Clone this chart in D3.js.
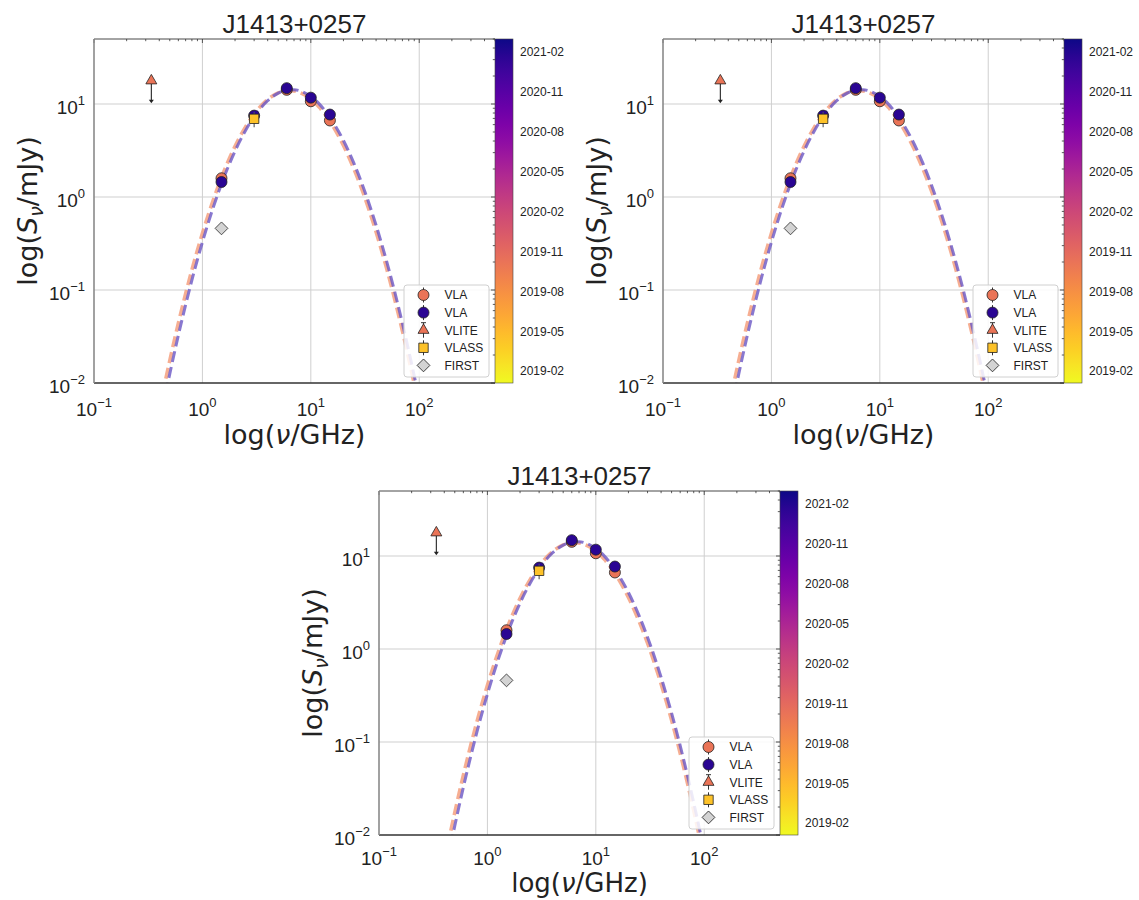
<!DOCTYPE html>
<html>
<head>
<meta charset="utf-8">
<script src="https://cdn.jsdelivr.net/npm/d3@7"></script>
<style>
  body { margin: 0; background: #fff; }
  text { font-family: "Liberation Sans", Arial, sans-serif; fill: #222; }
  .lab { font-family: "DejaVu Sans", sans-serif; }
</style>
</head>
<body>
<svg id="chart" width="1139" height="900"></svg>
<script>
// values (mJy vs GHz)
const vla1Freq = [1.5, 6, 10, 15];
const vla1Flux = [1.59, 14.2, 10.7, 6.65];
const vla2Freq = [1.5, 3, 6, 10, 15];
const vla2Flux = [1.45, 7.5, 14.8, 11.7, 7.7];
const vliteFreq = [0.338];
const vliteFlux = [17.8];
const vliteLimitTo = [10.2];
const vlassFreq = [3.0];
const vlassFlux = [6.93];
const vlassErr = [1.3];
const firstFreq = [1.5];
const firstFlux = [0.46];

const epochVla1 = '2019-10-06';
const epochVla2 = '2021-01-22';
const epochVlite = '2019-10-06';
const epochVlass = '2019-04-15';

// fitted spectra
const fitFreq = [0.4, 0.45, 0.5, 0.6, 0.7, 0.8, 1, 1.25, 1.5, 2, 2.5, 3, 4, 5, 6, 7, 8, 10, 12, 15,
                 20, 25, 30, 40, 50, 60, 70, 80, 90, 100, 120];
const fitEarly = [0.00512, 0.0099, 0.01745, 0.044, 0.0911, 0.1644, 0.4065, 0.906, 1.618, 3.505, 5.677,
                  7.80, 11.19, 13.16, 13.91, 13.83, 13.22, 11.29, 9.19, 6.51, 3.58, 2.00, 1.155, 0.4206,
                  0.171, 0.0758, 0.0362, 0.0183, 0.00973, 0.0054, 0.00184];
const fitLate = [0.00354, 0.00698, 0.01254, 0.0326, 0.0692, 0.1278, 0.327, 0.754, 1.382, 3.117, 5.198,
                 7.31, 10.85, 13.09, 14.12, 14.26, 13.81, 12.04, 9.97, 7.19, 4.05, 2.30, 1.34, 0.497,
                 0.204, 0.0913, 0.0438, 0.0223, 0.0119, 0.00662, 0.00227];

const xTicks = [0.1, 1, 10, 100];
const xTickExp = ['\u22121', '0', '1', '2'];
const yTicks = [0.01, 0.1, 1, 10];
const yTickExp = ['\u22122', '\u22121', '0', '1'];
const cbarDomain = ['2019-01-03', '2021-03-03'];
const cbarTickLabels = ['2019-02', '2019-05', '2019-08', '2019-11', '2020-02', '2020-05', '2020-08', '2020-11', '2021-02'];
const legendLabels = ['VLA', 'VLA', 'VLITE', 'VLASS', 'FIRST'];
const titleText = 'J1413+0257';

const W = 401, H = 344, CB = 18;
const panels = [
  {x: 94, y: 39, tick: 33, xlab: 61, fs: 27},
  {x: 663, y: 39, tick: 33, xlab: 61, fs: 27},
  {x: 379, y: 491, tick: 30, xlab: 57, fs: 26}
];

const svg = d3.select('#chart');
const parseDay = d3.timeParse('%Y-%m-%d');
const parseMonth = d3.timeParse('%Y-%m');
const dateFrac = d3.scaleTime().domain(cbarDomain.map(parseDay)).range([0, 1]);
const colorOf = d => d3.interpolatePlasma(1 - dateFrac(parseDay(d)));

// plasma gradient for the colour bars (top = late)
const grad = svg.append('defs').append('linearGradient')
  .attr('id', 'plasma').attr('x1', 0).attr('y1', 0).attr('x2', 0).attr('y2', 1);
grad.selectAll('stop').data(d3.range(0, 1.0001, 0.05)).join('stop')
  .attr('offset', d => d).attr('stop-color', d => d3.interpolatePlasma(d));

const sym = (type, size) => d3.symbol().type(type).size(size)();

function drawPanel(p, i) {
  const g = svg.append('g').attr('transform', `translate(${p.x},${p.y})`);
  const x = d3.scaleLog().domain([0.1, 500]).range([0, W]);
  const y = d3.scaleLog().domain([0.01, 50]).range([H, 0]);

  g.append('clipPath').attr('id', 'clip' + i)
    .append('rect').attr('width', W).attr('height', H);

  // grid
  g.append('g').selectAll('line').data(xTicks.slice(1)).join('line')
    .attr('x1', d => x(d)).attr('x2', d => x(d)).attr('y1', 0).attr('y2', H)
    .attr('stroke', '#cfcfcf').attr('stroke-width', 1);
  g.append('g').selectAll('line').data(yTicks.slice(1)).join('line')
    .attr('y1', d => y(d)).attr('y2', d => y(d)).attr('x1', 0).attr('x2', W)
    .attr('stroke', '#cfcfcf').attr('stroke-width', 1);

  // inward ticks on top and right
  const isMajor = v => Math.abs(Math.log10(v) - Math.round(Math.log10(v))) < 1e-6;
  g.append('g').selectAll('line').data(x.ticks()).join('line')
    .attr('x1', d => x(d)).attr('x2', d => x(d))
    .attr('y1', 0).attr('y2', d => isMajor(d) ? 4 : 2.2)
    .attr('stroke', '#333').attr('stroke-width', 0.8);
  g.append('g').selectAll('line').data(y.ticks()).join('line')
    .attr('y1', d => y(d)).attr('y2', d => y(d))
    .attr('x1', W).attr('x2', d => W - (isMajor(d) ? 4 : 2.2))
    .attr('stroke', '#333').attr('stroke-width', 0.8);

  // fitted curves
  const line = d3.line().x((d, k) => x(fitFreq[k])).y(d => y(d)).curve(d3.curveMonotoneX);
  const curves = g.append('g').attr('clip-path', `url(#clip${i})`);
  curves.append('path').attr('d', line(fitEarly)).attr('fill', 'none')
    .attr('stroke', '#f4a07f').attr('stroke-opacity', 0.85).attr('stroke-width', 3.6)
    .attr('stroke-dasharray', '11 5');
  curves.append('path').attr('d', line(fitLate)).attr('fill', 'none')
    .attr('stroke', '#6a56c4').attr('stroke-opacity', 0.8).attr('stroke-width', 3)
    .attr('stroke-dasharray', '11 5');

  const pts = g.append('g');
  // VLA epoch 1
  pts.selectAll('.v1').data(vla1Freq).join('path').attr('class', 'v1')
    .attr('transform', (d, k) => `translate(${x(d)},${y(vla1Flux[k])})`)
    .attr('d', sym(d3.symbolCircle, 95))
    .attr('fill', colorOf(epochVla1)).attr('stroke', '#222').attr('stroke-width', 0.8);
  // VLA epoch 2
  pts.selectAll('.v2').data(vla2Freq).join('path').attr('class', 'v2')
    .attr('transform', (d, k) => `translate(${x(d)},${y(vla2Flux[k])})`)
    .attr('d', sym(d3.symbolCircle, 95))
    .attr('fill', colorOf(epochVla2)).attr('stroke', '#222').attr('stroke-width', 0.8);
  // VLITE upper limit
  vliteFreq.forEach((f, k) => {
    const px = x(f), y0 = y(vliteFlux[k]), y1 = y(vliteLimitTo[k]);
    pts.append('line').attr('x1', px).attr('x2', px).attr('y1', y0).attr('y2', y1 - 2)
      .attr('stroke', '#222').attr('stroke-width', 1.1);
    pts.append('path').attr('d', `M${px - 2.5},${y1 - 3.5}L${px + 2.5},${y1 - 3.5}L${px},${y1}Z`)
      .attr('fill', '#222');
    pts.append('path').attr('transform', `translate(${px},${y0})`)
      .attr('d', sym(d3.symbolTriangle, 52))
      .attr('fill', colorOf(epochVlite)).attr('stroke', '#222').attr('stroke-width', 0.8);
  });
  // VLASS
  vlassFreq.forEach((f, k) => {
    pts.append('line').attr('x1', x(f)).attr('x2', x(f))
      .attr('y1', y(vlassFlux[k] - vlassErr[k])).attr('y2', y(vlassFlux[k] + vlassErr[k]))
      .attr('stroke', '#555').attr('stroke-width', 1.1);
    pts.append('path').attr('transform', `translate(${x(f)},${y(vlassFlux[k])})`)
      .attr('d', sym(d3.symbolSquare, 88))
      .attr('fill', colorOf(epochVlass)).attr('stroke', '#222').attr('stroke-width', 0.8);
  });
  // FIRST
  pts.selectAll('.fi').data(firstFreq).join('path').attr('class', 'fi')
    .attr('transform', (d, k) => `translate(${x(d)},${y(firstFlux[k])}) rotate(45)`)
    .attr('d', sym(d3.symbolSquare, 82))
    .attr('fill', '#d3d3d3').attr('stroke', '#333').attr('stroke-width', 0.8);

  // spines
  g.append('line').attr('x1', 0).attr('x2', W).attr('y1', 0).attr('y2', 0)
    .attr('stroke', '#333').attr('stroke-width', 0.9);
  g.append('line').attr('x1', 0).attr('x2', W).attr('y1', H).attr('y2', H)
    .attr('stroke', '#333').attr('stroke-width', 1.3);
  g.append('line').attr('x1', 0).attr('x2', 0).attr('y1', 0).attr('y2', H)
    .attr('stroke', '#8a8a8a').attr('stroke-width', 1.6);

  // tick labels
  const xl = g.append('g').selectAll('text').data(xTicks).join('text')
    .attr('x', d => x(d)).attr('y', H + p.tick).attr('text-anchor', 'middle')
    .style('font-size', '19px');
  xl.append('tspan').text('10');
  xl.append('tspan').attr('dy', -9).style('font-size', '13px').text((d, k) => xTickExp[k]);

  const yl = g.append('g').selectAll('text').data(yTicks).join('text')
    .attr('x', -9).attr('y', d => y(d) + 10).attr('text-anchor', 'end')
    .style('font-size', '19px');
  yl.append('tspan').text('10');
  yl.append('tspan').attr('dy', -9).style('font-size', '13px').text((d, k) => yTickExp[k]);

  // title and axis labels
  g.append('text').attr('x', W / 2).attr('y', -6).attr('text-anchor', 'middle')
    .style('font-size', '26px').text(titleText);

  const xlab = g.append('text').attr('class', 'lab').attr('x', W / 2).attr('y', H + p.xlab)
    .attr('text-anchor', 'middle').style('font-size', p.fs + 'px');
  xlab.append('tspan').text('log(');
  xlab.append('tspan').style('font-style', 'italic').text('\u03bd');
  xlab.append('tspan').text('/GHz)');

  const ylab = g.append('text').attr('class', 'lab')
    .attr('transform', `translate(-57,${H / 2}) rotate(-90)`)
    .attr('text-anchor', 'middle').style('font-size', '27px');
  ylab.append('tspan').text('log(');
  ylab.append('tspan').style('font-style', 'italic').text('S');
  ylab.append('tspan').style('font-style', 'italic').style('font-size', '19px').attr('dy', 6).text('\u03bd');
  ylab.append('tspan').attr('dy', -6).text('/mJy)');

  // legend
  const lg = g.append('g').attr('transform', `translate(${W - 6 - 85},${H - 6 - 92})`);
  lg.append('rect').attr('width', 85).attr('height', 92).attr('rx', 3)
    .attr('fill', '#fff').attr('fill-opacity', 0.85).attr('stroke', '#d0d0d0').attr('stroke-width', 1);
  const rows = lg.selectAll('g').data(legendLabels).join('g')
    .attr('transform', (d, k) => `translate(19.5,${10 + k * 17.6})`);
  const mk = [
    {t: d3.symbolCircle, s: 95, f: colorOf(epochVla1), bar: true},
    {t: d3.symbolCircle, s: 95, f: colorOf(epochVla2), bar: true},
    {t: d3.symbolTriangle, s: 52, f: colorOf(epochVlite), bar: true, cap: true},
    {t: d3.symbolSquare, s: 88, f: colorOf(epochVlass), bar: true},
    {t: d3.symbolSquare, s: 82, f: '#d3d3d3', rot: 45}
  ];
  rows.each(function(d, k) {
    const r = d3.select(this), m = mk[k];
    if (m.bar) r.append('line').attr('y1', -7.5).attr('y2', 7.5).attr('stroke', '#333').attr('stroke-width', 1);
    if (m.cap) r.append('line').attr('x1', -2.5).attr('x2', 2.5).attr('y1', -7.5).attr('y2', -7.5)
      .attr('stroke', '#333').attr('stroke-width', 1);
    r.append('path').attr('d', sym(m.t, m.s)).attr('transform', m.rot ? `rotate(${m.rot})` : null)
      .attr('fill', m.f).attr('stroke', '#222').attr('stroke-width', 0.8);
    r.append('text').attr('x', 21).attr('dy', '0.36em').style('font-size', '12px').text(d);
  });

  // colour bar
  const cb = g.append('g').attr('transform', `translate(${W},0)`);
  cb.append('rect').attr('width', CB).attr('height', H).attr('fill', 'url(#plasma)')
    .attr('stroke', '#444').attr('stroke-width', 0.6);
  const cy = d3.scaleTime().domain(cbarDomain.map(parseDay)).range([H, 0]);
  cb.selectAll('text').data(cbarTickLabels).join('text')
    .attr('x', CB + 7).attr('y', d => cy(parseMonth(d))).attr('dy', '0.35em')
    .style('font-size', '12px').text(d => d);
}

panels.forEach(drawPanel);
</script>
</body>
</html>
